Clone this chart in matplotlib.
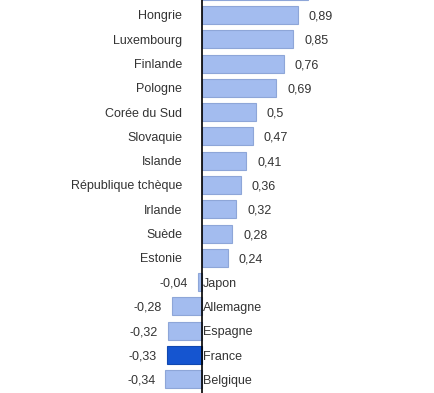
import matplotlib
matplotlib.use("Agg")
import matplotlib.pyplot as plt

countries = ["", "Hongrie", "Luxembourg", "Finlande", "Pologne", "Corée du Sud",
             "Slovaquie", "Islande", "République tchèque", "Irlande", "Suède",
             "Estonie", "Japon", "Allemagne", "Espagne", "France", "Belgique"]
values = [0.99, 0.89, 0.85, 0.76, 0.69, 0.5, 0.47, 0.41, 0.36, 0.32, 0.28,
          0.24, -0.04, -0.28, -0.32, -0.33, -0.34]
highlight = "France"

plt.rcParams['font.family'] = ['Liberation Sans', 'DejaVu Sans']

fig = plt.figure(figsize=(4.35, 3.93), dpi=100)
ax = fig.add_axes([0, 0, 1, 1])
ax.set_axis_off()

W = 435.0
pxu = 107.5  # pixels per unit
x0 = -202.0 / pxu
ax.set_xlim(x0, x0 + W / pxu)
ax.set_ylim(16.562, 0.3824)

light = "#a3bcef"
light_edge = "#8ea6d8"
dark = "#1555d0"
dark_edge = "#1048b0"

def fmt(v):
    s = f"{v:.2f}".rstrip("0").rstrip(".")
    return s.replace(".", ",")

ys = list(range(len(values)))
for y, c, v in zip(ys, countries, values):
    hl = (c == highlight)
    ax.barh(y, v, height=0.74, color=dark if hl else light,
            edgecolor=dark_edge if hl else light_edge, linewidth=0.8, zorder=2)
    if not c:
        continue
    lab = fmt(v)
    ty = y + 0.06
    if v >= 0:
        ax.text(v + 11 / pxu, ty, lab, ha="left", va="center", fontsize=9, color="#333333")
        ax.text(-20 / pxu, ty, c, ha="right", va="center", fontsize=9, color="#333333")
    else:
        ax.text(v - 10 / pxu, ty, lab, ha="right", va="center", fontsize=9, color="#333333")
        ax.text(1 / pxu, ty, c, ha="left", va="center", fontsize=9, color="#333333")

ax.axvline(0, color="black", linewidth=1.2, zorder=3)

fig.savefig("out.png", dpi=100)
